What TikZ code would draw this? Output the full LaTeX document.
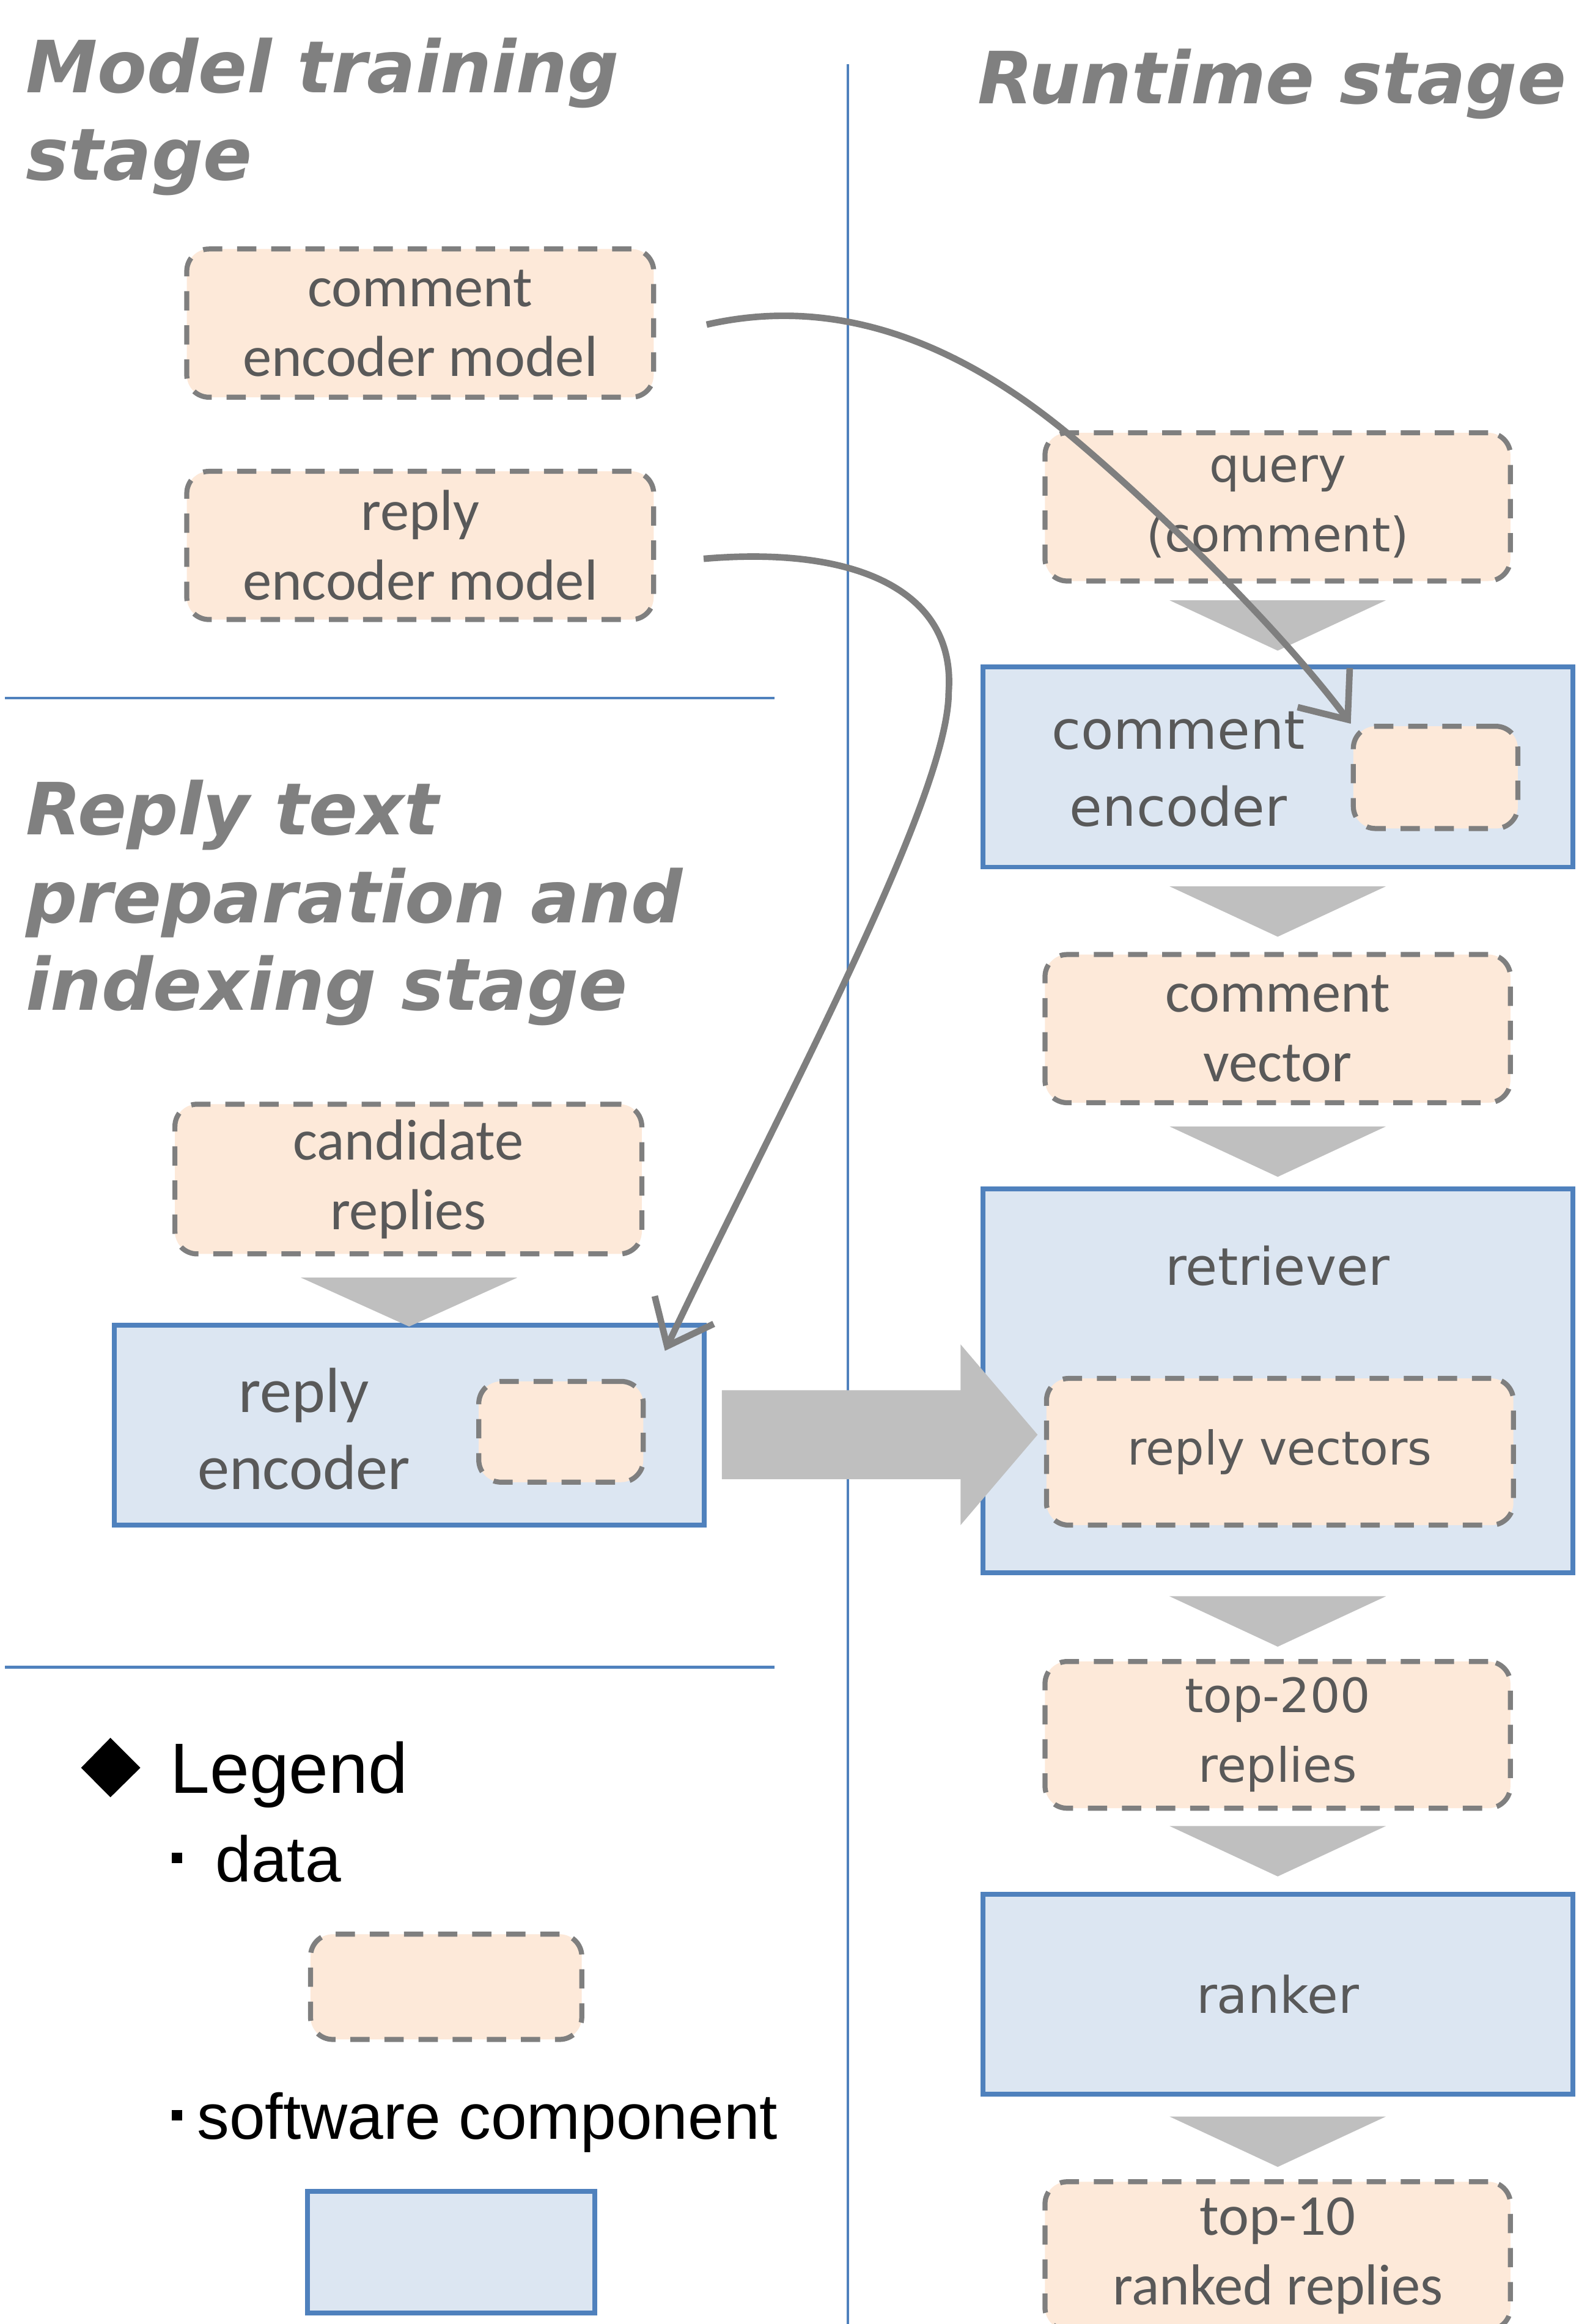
\documentclass[tikz,border=0pt]{standalone}
\usepackage{fontspec}
\setmainfont{Carlito}
\newfontfamily\verdfont{DejaVu Sans}
\newfontfamily\arialfont{Liberation Sans}
\usetikzlibrary{arrows.meta,calc}

\definecolor{blueline}{HTML}{4F81BD}
\definecolor{bluefill}{HTML}{DCE6F2}
\definecolor{peach}{HTML}{FDE9D9}
\definecolor{dashgray}{HTML}{7F7F7F}
\definecolor{textgray}{HTML}{595959}
\definecolor{titlegray}{HTML}{808080}
\definecolor{chevgray}{HTML}{BFBFBF}

\begin{document}
\begin{tikzpicture}[x=0.5pt,y=-0.5pt,
  databox/.style={draw=dashgray, fill=peach, line width=1.7pt,
    dash pattern=on 6.5pt off 5pt, rounded corners=7.5pt,
    inner sep=0pt, text=textgray, align=center},
  compbox/.style={draw=blueline, fill=bluefill, line width=1.6pt,
    inner sep=0pt, text=textgray, align=center},
  calib/.style={font=\fontsize{19.5}{23.5}\selectfont},
  verd/.style={font=\verdfont\fontsize{#1}{23.5}\selectfont},
  stagetitle/.style={font=\verdfont\bfseries\itshape\fontsize{24.3}{29.6}\selectfont,
    text=titlegray, align=left, inner sep=0pt},
  legtext/.style={font=\arialfont\fontsize{#1}{#1}\selectfont, inner sep=0pt, text=black},
  divider/.style={draw=blueline, line width=1pt},
  conn/.style={draw=dashgray, line width=2.2pt,
    -{Straight Barb[length=13.5pt,width=22pt]}},
  chevron/.style={fill=chevgray}
]
% page
\fill[white] (0,0) rectangle (1065,1568);
\useasboundingbox (0,0) rectangle (1065,1568);
\clip (0,0) rectangle (1065,1568);

% stage dividers
\draw[divider] (572,43.4) -- (572,1568);
\draw[divider] (3.4,471) -- (522.4,471);
\draw[divider] (3.4,1125) -- (522.4,1125);

% stage titles (anchored at the baseline of their last line)
\node[stagetitle, anchor=base west] (t1) at (17,121.6) {Model training\\stage};
\node[stagetitle, anchor=base east] (t2) at (1057,70) {Runtime stage};
\node[stagetitle, anchor=base west] (t3) at (17,681.6) {Reply text\\preparation and\\indexing stage};

% model training stage
\node[databox, calib, minimum width=157.5pt, minimum height=50pt] (cem) at (283.5,218) {comment\\encoder model};
\node[databox, calib, minimum width=157.5pt, minimum height=50pt] (rem) at (283.5,368) {reply\\encoder model};

% reply preparation and indexing stage
\node[databox, calib, minimum width=157.5pt, minimum height=50.5pt] (cand) at (275.5,795.5) {candidate\\replies};
\node[compbox, minimum width=199pt, minimum height=67.5pt] (renc) at (276,961.5) {};
\node[text=textgray, align=center, inner sep=0pt, font=\fontsize{21.5}{26}\selectfont] (renclab) at (205,964) {reply\\encoder};
\node[databox, minimum width=55.5pt, minimum height=34pt] (rin) at (378.5,966) {};

% runtime stage
\node[databox, verd=16, minimum width=157pt, minimum height=50pt] (query) at (862,342) {query\\(comment)};
\node[compbox, minimum width=199pt, minimum height=67.5pt] (cenc) at (862,517.5) {};
\node[text=textgray, align=center, inner sep=0pt, font=\verdfont\fontsize{18}{26}\selectfont] (cenclab) at (795,519) {comment\\encoder};
\node[databox, minimum width=55.5pt, minimum height=34.5pt] (cin) at (968.5,524.5) {};
\node[databox, calib, minimum width=157pt, minimum height=50pt] (cvec) at (862,694) {comment\\vector};
\node[compbox, minimum width=199pt, minimum height=129.5pt] (retr) at (862,931.5) {};
\node[text=textgray, inner sep=0pt, font=\verdfont\fontsize{17.5}{21}\selectfont] (retrlab) at (862,854) {retriever};
\node[databox, verd=15.75, minimum width=157.5pt, minimum height=49.5pt] (rvec) at (863.5,979.5) {reply vectors};
\node[databox, verd=16, minimum width=157pt, minimum height=49.5pt] (top200) at (862,1170.5) {top-200\\replies};
\node[compbox, minimum width=199pt, minimum height=67.5pt, font=\verdfont\fontsize{17}{20}\selectfont] (ranker) at (862,1345.5) {ranker};
\node[databox, calib, minimum width=157pt, minimum height=50pt] (top10) at (862,1522) {top-10\\ranked replies};

% flow chevrons
\foreach \yy in {405,598,760,1077,1232,1428}
  \fill[chevron] (789,\yy) -- (935,\yy) -- (862,\yy+34) -- cycle;
\fill[chevron] (203,862) -- (349,862) -- (276,895) -- cycle;

% reply vectors handed to the retriever
\fill[chevron] (487,938) -- (648,938) -- (648,907) -- (700,968)
  -- (648,1029) -- (648,998) -- (487,998) -- cycle;

% trained models loaded into the encoders
\coordinate (s1) at ($(cem.east)+(34,1)$);
\draw[conn] (s1) .. controls (560,200) and (641,227) .. (721,293)
  .. controls (775,338) and (860,420) .. (cin.north west);
\coordinate (s2) at ($(rem.east)+(32,9)$);
\coordinate (e2) at ($(renc.north east)+(-28,19)$);
\draw[conn] (s2) .. controls (580,368) and (645,400) .. (640,467)
  .. controls (640,540) and (520,760) .. (e2);

% legend
\fill (74.5,1172.5) -- (94.7,1192.7) -- (74.5,1212.6) -- (54.7,1192.7) -- cycle;
\node[legtext=24, anchor=base west] (leg) at (114.5,1210) {Legend};
\fill (116,1250) rectangle (123,1257);
\node[legtext=21.75, anchor=base west] (legdata) at (145,1269.6) {data};
\node[databox, minimum width=91.5pt, minimum height=35.5pt] (legdbox) at (301,1340.5) {};
\fill (116,1423.5) rectangle (123,1430.7);
\node[legtext=21.75, anchor=base west] (legsw) at (132.6,1443.4) {software component};
\node[compbox, minimum width=97pt, minimum height=41pt] (legcbox) at (304.3,1519.6) {};
\end{tikzpicture}
\end{document}
